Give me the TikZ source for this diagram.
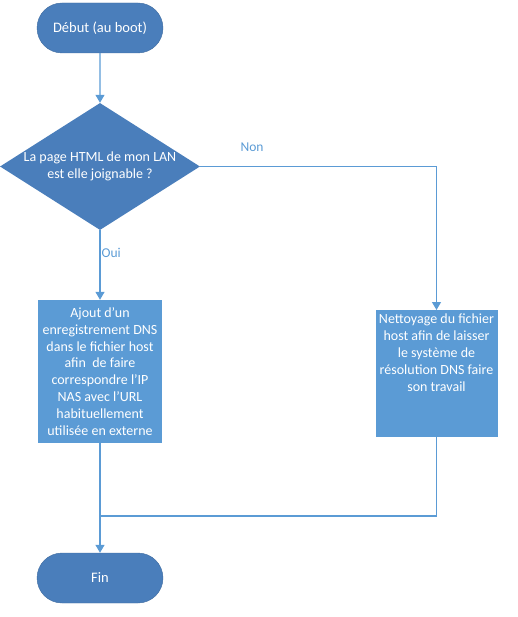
\documentclass[tikz,border=0pt]{standalone}
\usepackage{fontspec}
\setmainfont{Carlito}
\usetikzlibrary{shapes.geometric,shapes.misc,arrows.meta}
\definecolor{termblue}{HTML}{4A7EBB}
\definecolor{boxblue}{HTML}{5B9BD5}
\definecolor{lineblue}{HTML}{5B9BD5}
\tikzset{
  terminal/.style={rounded rectangle, fill=termblue, draw=termblue!85!black, line width=0.4pt, text=white, minimum width=126pt, minimum height=50pt, inner sep=0pt, font=\fontsize{14.5}{17}\selectfont},
  decision/.style={diamond, fill=termblue, text=white, minimum width=200pt, minimum height=127pt, inner sep=0pt, aspect=1.575, font=\fontsize{14}{17}\selectfont, align=center},
  process/.style={rectangle, fill=boxblue, text=white, inner sep=0pt, font=\fontsize{14}{16.8}\selectfont},
  conn/.style={draw=lineblue, line width=1.2pt},
  arr/.style={conn, -{Triangle[length=8pt,width=9pt]}},
  lbl/.style={text=lineblue, font=\fontsize{13.5}{16}\selectfont}
}
\begin{document}
\begin{tikzpicture}[x=1pt,y=-1pt]
\useasboundingbox (0,0) rectangle (518,617);
\node[terminal] (start) at (100,28) {Début (au boot)};
\node[decision] (dec) at (100,166.5) {La page HTML de mon LAN\\est elle joignable ?};
\node[process] (ajout) at (100,371.5) {\begin{minipage}[c][143pt][c]{124pt}\centering
Ajout d’un\\enregistrement DNS\\dans le fichier host\\afin\ \ de faire\\correspondre l’IP\\NAS avec l’URL\\habituellement\\utilisée en externe\end{minipage}};
\node[process, anchor=north] (nett) at (436.5,310) {\begin{minipage}[c][127pt][t]{122pt}\centering\vspace{4pt}
Nettoyage du fichier\\host afin de laisser\\le système de\\résolution DNS faire\\son travail\end{minipage}};
\node[terminal] (fin) at (100,578) {Fin};
\coordinate (corner) at (436.5,166.5);
\coordinate (join) at (100,516);
\draw[arr] (start) -- (dec);
\draw[arr] (dec.south) -- node[lbl, pos=0.32, right, inner sep=1pt] {Oui} (ajout.north);
\draw[arr] (dec.east) -- (corner) -- (nett.north);
\node[lbl] (non) at (252,147) {Non};
\draw[arr] (ajout.south) -- (fin.north);
\draw[conn] (nett.south) |- (join);
\end{tikzpicture}
\end{document}
